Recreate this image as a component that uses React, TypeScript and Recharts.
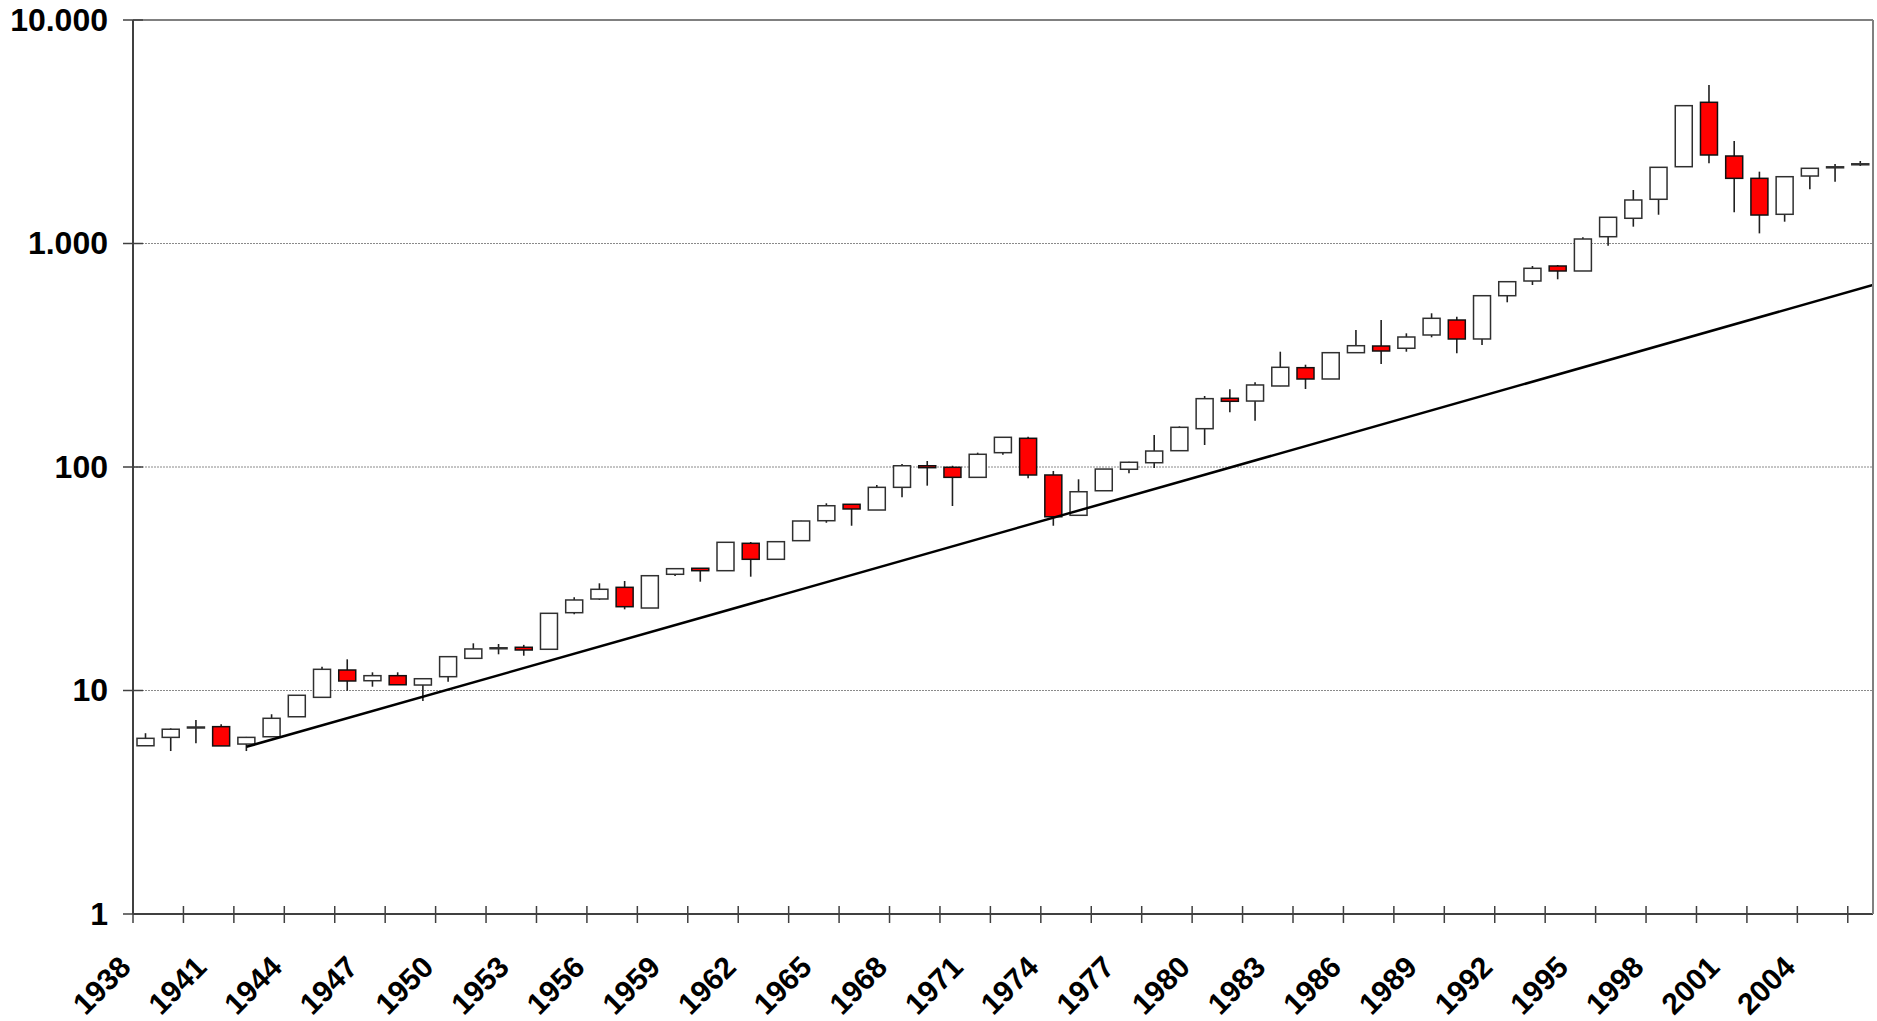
import React from 'react';
import { ComposedChart, Bar, Line, XAxis, YAxis, CartesianGrid, ReferenceLine } from 'recharts';

const years = [
  1938, 1939, 1940, 1941, 1942, 1943, 1944, 1945, 1946, 1947,
  1948, 1949, 1950, 1951, 1952, 1953, 1954, 1955, 1956, 1957,
  1958, 1959, 1960, 1961, 1962, 1963, 1964, 1965, 1966, 1967,
  1968, 1969, 1970, 1971, 1972, 1973, 1974, 1975, 1976, 1977,
  1978, 1979, 1980, 1981, 1982, 1983, 1984, 1985, 1986, 1987,
  1988, 1989, 1990, 1991, 1992, 1993, 1994, 1995, 1996, 1997,
  1998, 1999, 2000, 2001, 2002, 2003, 2004, 2005, 2006,
];

const opens = [
  5.66, 6.17, 6.82, 6.89, 5.76, 6.21, 7.63, 9.32, 12.35, 11.06,
  11.65, 10.58, 11.53, 13.93, 15.4, 15.61, 15.29, 22.29, 25.67, 28.95,
  23.39, 33.11, 35.23, 34.36, 45.56, 38.64, 46.81, 57.5, 68.1, 64.2,
  81.1, 101.3, 99.7, 89.9, 115.9, 134.4, 92.1, 60.8, 78.3, 97.7,
  104.5, 118.3, 148.4, 203, 197.3, 230.4, 278.2, 247.6, 324.7, 347.8,
  339.8, 389.6, 454.6, 373.9, 584, 679.5, 793.1, 753.4, 1072.5, 1296.7,
  1577, 2206, 4283, 2463, 1957, 1351, 2004, 2185, 2255,
];

const highs = [
  6.44, 6.77, 7.38, 7.06, 6.2, 7.83, 9.55, 12.78, 13.79, 12.06,
  12.06, 11.3, 14.2, 16.26, 16.15, 16.0, 22.2, 26.12, 30.17, 30.9,
  32.8, 35.1, 35.3, 46.1, 46.17, 46.5, 57.5, 68.8, 68.3, 83.1,
  103.1, 106.4, 101.3, 115.9, 136, 136.6, 96.0, 88.1, 98, 105.5,
  139, 152, 207.8, 222.6, 239.3, 328, 286.9, 325, 410.2, 454.6,
  396.4, 487.2, 470.5, 584, 675, 793.1, 801.3, 1066, 1315, 1735.4,
  2195, 4140, 5120, 2874, 2096, 1995, 2175, 2268, 2339,
];

const lows = [
  5.66, 5.36, 5.8, 5.65, 5.36, 6.21, 7.63, 9.32, 9.98, 10.4,
  10.61, 8.98, 10.95, 13.9, 14.52, 14.31, 15.29, 21.93, 25.4, 23.08,
  23.39, 32.53, 30.68, 34.36, 32.3, 38.64, 46.81, 56.3, 54.6, 64.2,
  73.2, 82.5, 66.9, 89.9, 113.5, 89.0, 54.6, 60.8, 78.3, 93.7,
  99, 118, 125.4, 175.7, 161, 230, 223.4, 247.6, 324.7, 289,
  328, 380.4, 322.7, 351.5, 545.7, 652.1, 691.6, 753.4, 977.7, 1189.2,
  1345, 2206, 2285, 1379, 1110, 1252, 1748, 1890, 2222,
];

const closes = [
  6.11, 6.71, 6.84, 5.65, 6.17, 7.51, 9.52, 12.44, 11.03, 11.65,
  10.61, 11.29, 14.17, 15.34, 15.5, 15.18, 22.15, 25.41, 28.37, 23.71,
  32.63, 35.08, 34.36, 46.03, 38.64, 46.33, 57.33, 67.1, 64.9, 81.1,
  101.3, 99.3, 89.9, 114.0, 135.8, 92.1, 59.9, 77.5, 97.9, 105.0,
  117.9, 150.5, 202.2, 196.8, 232.8, 279.3, 247.6, 324.7, 348.9, 330.4,
  381.6, 462.7, 373.9, 584, 674.7, 774.5, 753.4, 1047.4, 1310, 1565.6,
  2192, 4137, 2489, 1957, 1341, 1990, 2170, 2200, 2268,
];

const yTicks = [1, 10, 100, 1000, 10000];
const yTickLabels = ['1', '10', '100', '1.000', '10.000'];

const trendYears = [1942, 2006.5];
const trendValues = [5.6, 652];

const LABEL_EVERY = 3;
const TICKMARK_EVERY = 2;

const data = years.map((yr, i) => ({
  year: String(yr),
  open: opens[i],
  high: highs[i],
  low: lows[i],
  close: closes[i],
  wick: [lows[i], highs[i]],
  body: [Math.min(opens[i], closes[i]), Math.max(opens[i], closes[i])],
}));

const trendData = trendYears.map((x, i) => ({ x, v: trendValues[i] }));

const FONT = "'Liberation Sans', Arial, Helvetica, sans-serif";
const AXIS = '#404040';

const YTick = (props: any) => {
  const { x, y, payload } = props;
  const idx = yTicks.indexOf(payload.value);
  return (
    <g>
      <line x1={x - 10} x2={x + 10} y1={y} y2={y} stroke={AXIS} strokeWidth={1.5} />
      <text x={x - 25} y={y} dy={10.8} textAnchor="end" fontSize={32} fontWeight="bold" fontFamily={FONT} fill="#000">
        {yTickLabels[idx]}
      </text>
    </g>
  );
};

const XTick = (props: any) => {
  const { x, y, payload, index, width, visibleTicksCount } = props;
  const half =
    payload && typeof payload.offset === 'number' && payload.offset > 0
      ? payload.offset
      : width / (visibleTicksCount || years.length) / 2;
  const bx = x - half;
  const ax = x - 13;
  const ay = y + 55;
  return (
    <g>
      {index % TICKMARK_EVERY === 0 && (
        <line x1={bx} x2={bx} y1={y - 8} y2={y + 9} stroke={AXIS} strokeWidth={1.5} />
      )}
      {index % LABEL_EVERY === 0 && (
        <text x={ax} y={ay} transform={`rotate(-45 ${ax} ${ay})`} textAnchor="end" fontSize={30} fontWeight="bold" fontFamily={FONT} fill="#000">
          {payload.value}
        </text>
      )}
    </g>
  );
};

const WickShape = (props: any) => {
  const { x, y, width, height } = props;
  const cx = x + width / 2;
  return <line x1={cx} x2={cx} y1={y} y2={y + height} stroke="#202020" strokeWidth={1.6} />;
};

const BodyShape = (props: any) => {
  const { x, y, width, height, payload } = props;
  const up = payload.close >= payload.open;
  const h = Math.max(height, 1);
  const yy = height < 1 ? y - (1 - height) / 2 : y;
  return (
    <rect
      x={x}
      y={yy}
      width={width}
      height={h}
      fill={up ? '#ffffff' : '#ff0000'}
      stroke={up ? '#303030' : '#111111'}
      strokeWidth={1.5}
    />
  );
};

export default function App() {
  return (
    <div style={{ position: 'absolute', left: 0, top: 0, background: '#fff' }}>
      <ComposedChart
        width={1876}
        height={1020}
        data={data}
        margin={{ top: 20, right: 0, bottom: 0, left: 0 }}
      >
        <CartesianGrid
          xAxisId="main"
          horizontal={true}
          vertical={false}
          stroke="#8a8a8a"
          strokeDasharray="2 1"
          strokeWidth={1}
        />
        <XAxis
          xAxisId="main"
          dataKey="year"
          type="category"
          interval={0}
          height={106}
          tickLine={false}
          tickSize={0}
          tickMargin={0}
          axisLine={{ stroke: AXIS, strokeWidth: 2 }}
          tick={<XTick />}
        />
        <XAxis xAxisId="wick" dataKey="year" type="category" hide />
        <XAxis
          xAxisId="yr"
          dataKey="x"
          type="number"
          domain={[1937.5, 2006.5]}
          allowDataOverflow
          hide
        />
        <YAxis
          scale="log"
          domain={[1, 10000]}
          ticks={yTicks}
          allowDataOverflow
          width={133}
          interval={0}
          tickLine={false}
          tickSize={0}
          tickMargin={0}
          axisLine={{ stroke: AXIS, strokeWidth: 2 }}
          tick={<YTick />}
        />
        <YAxis
          yAxisId="right"
          orientation="right"
          width={3}
          tick={false}
          tickLine={false}
          axisLine={{ stroke: '#808080', strokeWidth: 2 }}
        />
        <ReferenceLine xAxisId="main" y={10000} stroke="#808080" strokeWidth={2} ifOverflow="visible" />
        <Bar xAxisId="wick" dataKey="wick" barSize={3} shape={<WickShape />} isAnimationActive={false} />
        <Bar xAxisId="main" dataKey="body" barSize={17} shape={<BodyShape />} isAnimationActive={false} />
        <Line
          xAxisId="yr"
          data={trendData}
          dataKey="v"
          stroke="#000"
          strokeWidth={2.5}
          dot={false}
          activeDot={false}
          isAnimationActive={false}
        />
      </ComposedChart>
    </div>
  );
}
